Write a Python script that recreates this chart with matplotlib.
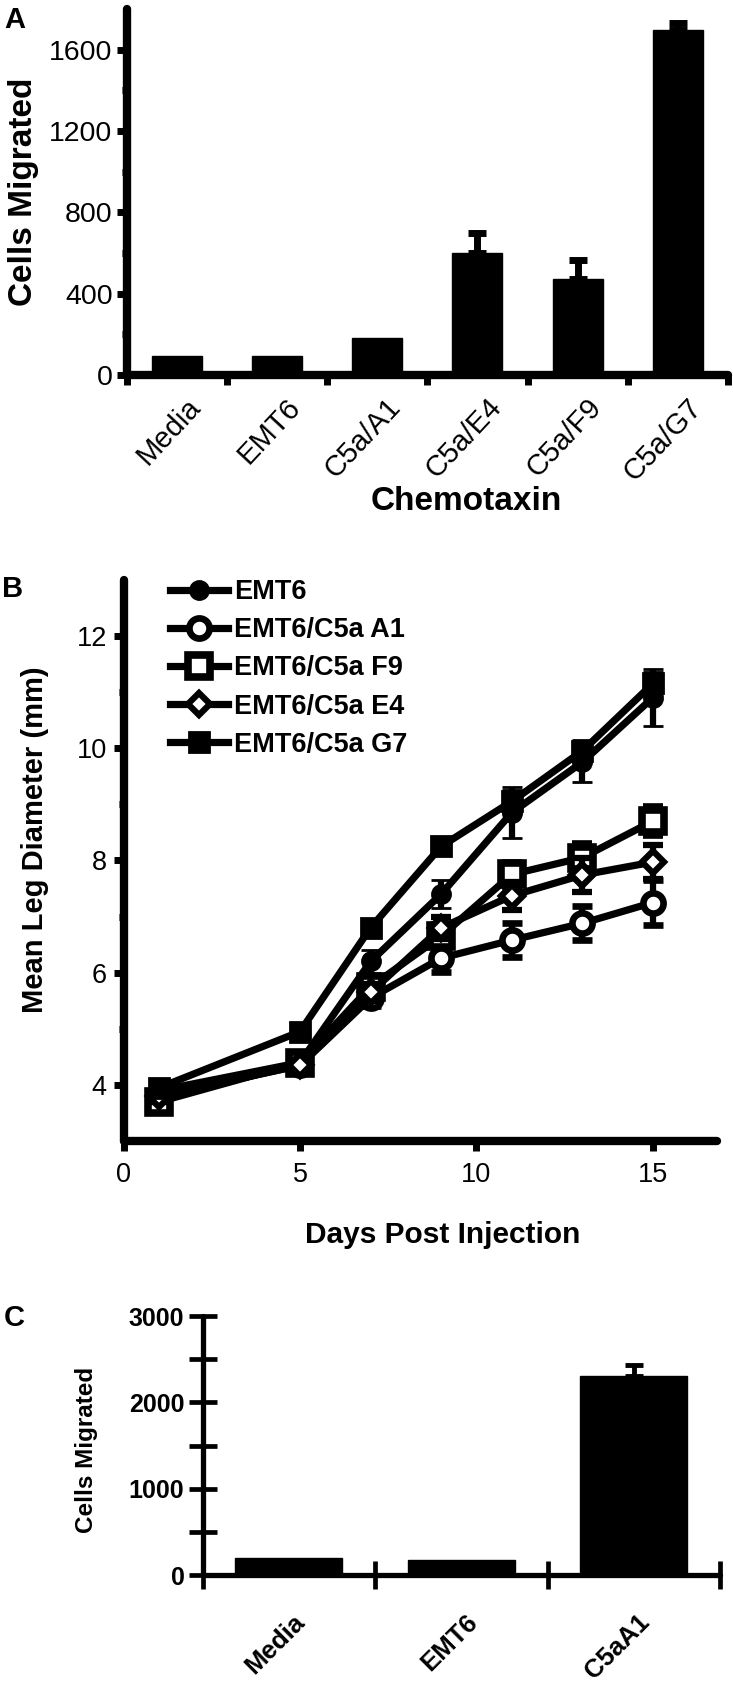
import matplotlib
matplotlib.use('Agg')
import matplotlib.pyplot as plt
from matplotlib.transforms import ScaledTranslation
import numpy as np

plt.rcParams['font.family'] = ['Liberation Sans', 'DejaVu Sans']

# ---------------- data ----------------
# Panel A
a_categories = ['Media', 'EMT6', 'C5a/A1', 'C5a/E4', 'C5a/F9', 'C5a/G7']
a_values = [95, 95, 180, 600, 474, 1695]
a_errors = [0, 0, 0, 100, 90, 35]
a_yticks = [0, 400, 800, 1200, 1600]

# Panel B
b_days = [1, 5, 7, 9, 11, 13, 15]
b_labels = ['EMT6', 'EMT6/C5a A1', 'EMT6/C5a F9', 'EMT6/C5a E4', 'EMT6/C5a G7']
b_emt6 = [3.9, 4.4, 6.2, 7.4, 8.85, 9.75, 10.9]
b_emt6_err = [0.1, 0.1, 0.2, 0.25, 0.45, 0.35, 0.5]
b_a1 = [3.8, 4.35, 5.55, 6.26, 6.58, 6.88, 7.25]
b_a1_err = [0.1, 0.1, 0.15, 0.25, 0.3, 0.3, 0.4]
b_f9 = [3.7, 4.4, 5.75, 6.65, 7.75, 8.05, 8.7]
b_f9_err = [0.1, 0.1, 0.15, 0.2, 0.2, 0.25, 0.25]
b_e4 = [3.8, 4.35, 5.65, 6.8, 7.37, 7.74, 7.97]
b_e4_err = [0.1, 0.1, 0.15, 0.2, 0.25, 0.3, 0.3]
b_g7 = [3.95, 4.95, 6.8, 8.25, 9.05, 9.95, 11.15]
b_g7_err = [0.1, 0.15, 0.15, 0.15, 0.2, 0.2, 0.2]
b_xticks = [0, 5, 10, 15]
b_yticks = [4, 6, 8, 10, 12]

# Panel C
c_categories = ['Media', 'EMT6', 'C5aA1']
c_values = [197, 177, 2308]
c_errors = [0, 0, 120]
c_yticks = [0, 1000, 2000, 3000]

# ---------------- figure ----------------
W, H = 733, 1686
fig = plt.figure(figsize=(W / 100, H / 100), dpi=100)


def px_axes(left, right, top, bottom):
    return fig.add_axes([left / W, 1 - bottom / H, (right - left) / W, (bottom - top) / H])


def style_spines(ax, lw):
    for s in ['top', 'right']:
        ax.spines[s].set_visible(False)
    for s in ['left', 'bottom']:
        ax.spines[s].set_linewidth(lw)
        ax.spines[s].set_capstyle('round')


# ---------- Panel A ----------
axA = px_axes(126.5, 728, 9.1, 375)
xa = np.arange(len(a_categories)) + 0.5
axA.bar(xa, a_values, width=0.5, color='black', edgecolor='black', zorder=2)
idx = [i for i, e in enumerate(a_errors) if e > 0]
axA.errorbar(xa[idx], np.array(a_values)[idx],
             yerr=[np.zeros(len(idx)), np.array(a_errors)[idx]],
             fmt='none', ecolor='black', elinewidth=5, capsize=6.5, capthick=5, zorder=3)
axA.set_xlim(0, 6)
axA.set_ylim(0, 1800)
style_spines(axA, 6)
axA.set_yticks(a_yticks)
axA.set_yticks([200, 600, 1000, 1400], minor=True)
axA.set_xticks(np.arange(0, 7))
axA.set_xticklabels([])
axA.set_xticks(xa, minor=True)
axA.set_xticklabels(a_categories, minor=True, rotation=47, ha='right',
                    rotation_mode='anchor', fontsize=21)
axA.tick_params(axis='y', which='major', length=7, width=5, labelsize=20.5, pad=3)
axA.tick_params(axis='y', which='minor', length=3.5, width=5)
axA.tick_params(axis='x', which='major', length=7, width=5)
axA.tick_params(axis='x', which='minor', length=0, pad=13)
for lab in axA.get_xticklabels(minor=True):
    lab.set_transform(lab.get_transform() + ScaledTranslation(0.09, 0, fig.dpi_scale_trans))
axA.set_ylabel('Cells Migrated', fontsize=24, fontweight='bold')
axA.yaxis.label.set_verticalalignment('center')
axA.yaxis.set_label_coords((23.4 - 126.5) / 601.5, 0.5)
axA.set_xlabel('Chemotaxin', fontsize=24, fontweight='bold')
axA.xaxis.label.set_verticalalignment('center')
axA.xaxis.set_label_coords((466 - 126.5) / 601.5, (375 - 501) / 365.9)

# ---------- Panel B ----------
axB = px_axes(123.5, 716.5, 579.6, 1141.2)
series = [b_emt6, b_a1, b_f9, b_e4, b_g7]
errs = [b_emt6_err, b_a1_err, b_f9_err, b_e4_err, b_g7_err]
styles = [
    dict(marker='o', ms=13, mfc='black', mew=2),
    dict(marker='o', ms=14.5, mfc='white', mew=4.8),
    dict(marker='s', ms=15.5, mfc='white', mew=5.5),
    dict(marker='D', ms=11.5, mfc='white', mew=4.5),
    dict(marker='s', ms=14.5, mfc='black', mew=2),
]
handles = []
for k, (vals, er, st) in enumerate(zip(series, errs, styles)):
    cont = axB.errorbar(b_days, vals, yerr=er, color='black', lw=5.2, mec='black',
                        elinewidth=4.5, capsize=7, capthick=5.5, zorder=3 + k, **st)
    handles.append(cont.lines[0])
axB.set_xlim(0, 16.8)
axB.set_ylim(3, 13)
style_spines(axB, 6)
axB.set_xticks(b_xticks)
axB.set_yticks(b_yticks)
axB.set_yticks([5, 7, 9, 11], minor=True)
axB.tick_params(axis='both', which='major', length=7, width=5, labelsize=19.5)
axB.tick_params(axis='y', which='major', pad=5)
axB.tick_params(axis='x', which='major', pad=8)
axB.tick_params(axis='y', which='minor', length=3.5, width=5)
axB.set_ylabel('Mean Leg Diameter (mm)', fontsize=21, fontweight='bold')
axB.yaxis.label.set_verticalalignment('center')
axB.yaxis.set_label_coords((35 - 123.5) / 593, (1141.2 - 840) / 561.6)
axB.set_xlabel('Days Post Injection', fontsize=21.5, fontweight='bold')
axB.xaxis.label.set_verticalalignment('center')
axB.xaxis.set_label_coords((443 - 123.5) / 593, (1141.2 - 1235) / 561.6)
fig.legend(handles, b_labels, loc='upper left', bbox_to_anchor=(170 / W, 1 - 579 / H),
           frameon=False, borderpad=0, borderaxespad=0, handlelength=2.15,
           handletextpad=0.2, labelspacing=0.45, numpoints=1,
           prop=dict(size=19.5, weight='bold'))

# ---------- Panel C ----------
axC = px_axes(202.5, 720, 1316, 1575.3)
xc = np.arange(len(c_categories)) + 0.5
axC.bar(xc, c_values, width=0.62, color='black', edgecolor='black', zorder=2)
idc = [i for i, e in enumerate(c_errors) if e > 0]
axC.errorbar(xc[idc], np.array(c_values)[idc],
             yerr=[np.zeros(len(idc)), np.array(c_errors)[idc]],
             fmt='none', ecolor='black', elinewidth=3.5, capsize=6.5, capthick=3.5, zorder=3)
axC.set_xlim(0, 3)
axC.set_ylim(0, 3000)
style_spines(axC, 3.8)
axC.set_yticks(c_yticks)
axC.set_yticks([500, 1500, 2500], minor=True)
axC.set_yticklabels([str(v) for v in c_yticks], fontweight='bold')
axC.set_xticks(np.arange(0, 4))
axC.set_xticklabels([])
axC.set_xticks(xc, minor=True)
axC.set_xticklabels(c_categories, minor=True, rotation=45, ha='right',
                    rotation_mode='anchor', fontsize=18.5, fontweight='bold')
axC.tick_params(axis='y', which='both', direction='inout', length=20, width=3.4,
                labelsize=18, pad=3)
axC.tick_params(axis='x', which='major', direction='inout', length=20, width=3.4)
axC.tick_params(axis='x', which='minor', length=0, pad=25)
for lab in axC.get_xticklabels(minor=True):
    lab.set_transform(lab.get_transform() + ScaledTranslation(0.04, 0, fig.dpi_scale_trans))
axC.set_ylabel('Cells Migrated', fontsize=17.5, fontweight='bold')
axC.yaxis.label.set_verticalalignment('center')
axC.yaxis.set_label_coords((86 - 202.5) / 517.5, (1575.3 - 1450) / 259.3)

# ---------- panel letters ----------
fig.text(4 / W, 1 - 6 / H, 'A', fontsize=21, fontweight='bold', ha='left', va='top')
fig.text(2 / W, 1 - 575 / H, 'B', fontsize=21, fontweight='bold', ha='left', va='top')
fig.text(4 / W, 1 - 1304 / H, 'C', fontsize=21, fontweight='bold', ha='left', va='top')

fig.savefig('out.png', dpi=100)
